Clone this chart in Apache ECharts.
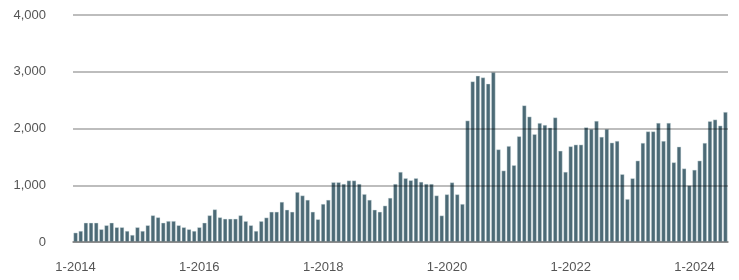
<!DOCTYPE html>
<html>
<head>
<meta charset="utf-8">
<script src="https://cdn.jsdelivr.net/npm/echarts@6/dist/echarts.min.js"></script>
<style>
  html, body { margin: 0; padding: 0; background: #fff; }
  #main { width: 739px; height: 280px; }
</style>
</head>
<body>
<div id="main"></div>
<script>
// monthly values, Jan 2014 .. Jul 2024
var years = ["2014", "2015", "2016", "2017", "2018", "2019", "2020", "2021", "2022", "2023", "2024"];
var v2014 = [165, 195, 340, 340, 340, 225, 295, 340, 260, 260, 195, 125];
var v2015 = [260, 195, 295, 470, 435, 340, 370, 370, 295, 260, 225, 195];
var v2016 = [260, 340, 470, 575, 435, 410, 410, 410, 470, 368, 295, 195];
var v2017 = [368, 431, 533, 533, 707, 569, 533, 880, 820, 743, 533, 401];
var v2018 = [671, 743, 1054, 1054, 1024, 1084, 1084, 1024, 844, 743, 569, 533];
var v2019 = [641, 778, 1024, 1235, 1125, 1088, 1125, 1060, 1024, 1024, 820, 467];
var v2020 = [840, 1050, 840, 670, 2140, 2830, 2930, 2900, 2790, 2990, 1632, 1259];
var v2021 = [1691, 1354, 1863, 2408, 2210, 1900, 2097, 2063, 2015, 2195, 1608, 1236];
var v2022 = [1686, 1716, 1716, 2021, 1991, 2134, 1853, 1991, 1751, 1781, 1195, 757];
var v2023 = [1123, 1434, 1746, 1949, 1949, 2099, 1781, 2099, 1404, 1680, 1296, 997];
var v2024 = [1272, 1434, 1746, 2129, 2158, 2051, 2290];

var values = [].concat(v2014, v2015, v2016, v2017, v2018, v2019, v2020, v2021, v2022, v2023, v2024);
var months = [];
for (var i = 0; i < values.length; i++) {
  months.push((i % 12 + 1) + "-" + years[Math.floor(i / 12)]);
}

var myChart = echarts.init(document.getElementById("main"));
myChart.setOption({
  animation: false,
  grid: { left: 73, right: 11, top: 15, bottom: 38 },
  xAxis: {
    type: "category",
    data: months,
    axisLine: { lineStyle: { color: "#bdbdbd", width: 2 } },
    axisTick: {
      alignWithLabel: true,
      length: 9,
      interval: function (idx) { return idx % 12 === 0; },
      lineStyle: { color: "#bdbdbd", width: 2 }
    },
    axisLabel: {
      interval: function (idx) { return idx % 24 === 0; },
      margin: 19,
      color: "#555",
      fontSize: 13,
      fontFamily: "Liberation Sans, Arial, sans-serif"
    }
  },
  yAxis: {
    type: "value",
    min: 0,
    max: 4000,
    interval: 1000,
    z: 5,
    axisLine: { show: false },
    axisTick: { show: false },
    splitLine: { lineStyle: { color: "rgba(0,0,0,0.26)", width: 2 } },
    axisLabel: {
      margin: 27,
      color: "#555",
      fontSize: 13,
      fontFamily: "Liberation Sans, Arial, sans-serif",
      formatter: function (v) { return v.toLocaleString("en-US"); }
    }
  },
  series: [
    {
      type: "bar",
      data: values,
      barCategoryGap: "16%",
      itemStyle: {
        color: "#4c6a76",
        borderColor: "rgba(220,230,234,0.7)",
        borderWidth: 0.6
      }
    }
  ]
});
</script>
</body>
</html>
